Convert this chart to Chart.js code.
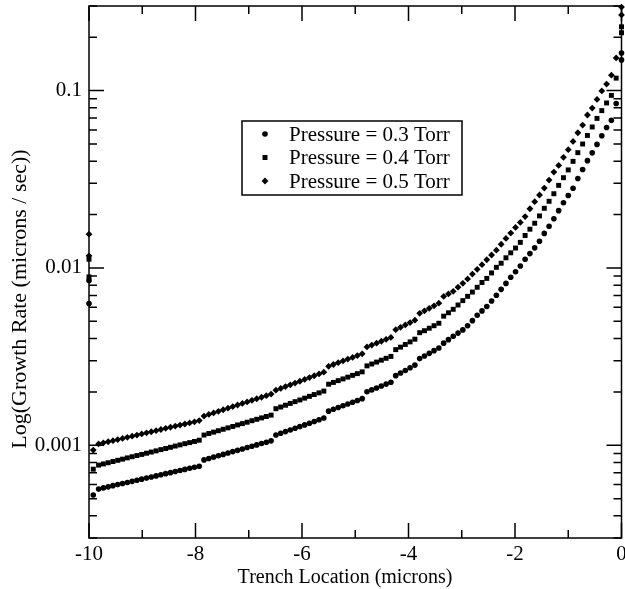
<!DOCTYPE html>
<html><head><meta charset="utf-8">
<script src="https://cdn.jsdelivr.net/npm/chart.js@4.4.0/dist/chart.umd.min.js"></script>
<style>html,body{margin:0;padding:0;background:#fff;}#wrap{width:625px;height:589px;}</style>
</head><body><div id="wrap"><canvas id="c" width="625" height="589"></canvas></div>
<script>
const seriesLabels = ['Pressure = 0.3 Torr', 'Pressure = 0.4 Torr', 'Pressure = 0.5 Torr'];
const xTickValues = [-10, -8, -6, -4, -2, 0];
const yTickValues = [0.001, 0.01, 0.1];
const xTitle = 'Trench Location (microns)';
const yTitle = 'Log(Growth Rate (microns / sec))';

const trenchLocation = [-9.82,-9.73,-9.64,-9.55,-9.46,-9.37,-9.28,-9.19,-9.10,-9.01,
-8.92,-8.83,-8.74,-8.65,-8.56,-8.47,-8.38,-8.29,-8.20,-8.11,
-8.02,-7.93,-7.84,-7.75,-7.66,-7.57,-7.48,-7.39,-7.30,-7.21,
-7.12,-7.03,-6.94,-6.85,-6.76,-6.67,-6.58,-6.49,-6.40,-6.31,
-6.22,-6.13,-6.04,-5.95,-5.86,-5.77,-5.68,-5.59,-5.50,-5.41,
-5.32,-5.23,-5.14,-5.05,-4.96,-4.87,-4.78,-4.69,-4.60,-4.51,
-4.42,-4.33,-4.24,-4.15,-4.06,-3.97,-3.88,-3.79,-3.70,-3.61,
-3.52,-3.43,-3.34,-3.25,-3.16,-3.07,-2.98,-2.89,-2.80,-2.71,
-2.62,-2.53,-2.44,-2.35,-2.26,-2.17,-2.08,-1.99,-1.90,-1.81,
-1.72,-1.63,-1.54,-1.45,-1.36,-1.27,-1.18,-1.09,-1.00,-0.91,
-0.82,-0.73,-0.64,-0.55,-0.46,-0.37,-0.28,-0.19,-0.10];

const rate03 = [0.000566,0.000575,0.000583,0.000592,0.000600,0.000609,0.000617,0.000626,0.000635,0.000644,
0.000653,0.000663,0.000672,0.000682,0.000692,0.000701,0.000711,0.000721,0.000731,0.000742,
0.000752,0.000762,0.000827,0.000842,0.000857,0.000872,0.000888,0.000904,0.000921,0.000936,
0.000953,0.000971,0.000988,0.001005,0.001024,0.001041,0.001059,0.001142,0.001168,0.001194,
0.001220,0.001247,0.001275,0.001303,0.001332,0.001362,0.001394,0.001425,0.001558,0.001595,
0.001633,0.001671,0.001710,0.001749,0.001790,0.001832,0.002003,0.002053,0.002104,0.002157,
0.002213,0.002268,0.002470,0.002554,0.002642,0.002736,0.002833,0.003082,0.003187,0.003300,
0.003417,0.003539,0.003766,0.003940,0.004117,0.004292,0.004473,0.004717,0.005044,0.005409,
0.005726,0.006062,0.006509,0.007016,0.007572,0.008183,0.008855,0.009520,0.01026,0.01119,
0.01205,0.01298,0.01414,0.01566,0.01719,0.01895,0.02104,0.02333,0.02561,0.02815,
0.03196,0.03590,0.04027,0.04456,0.04973,0.05565,0.06197,0.06802,0.08452];

const rate04 = [0.000773,0.000785,0.000797,0.000810,0.000823,0.000835,0.000849,0.000862,0.000875,0.000888,
0.000902,0.000916,0.000930,0.000945,0.000959,0.000974,0.000990,0.001005,0.001021,0.001035,
0.001051,0.001068,0.001142,0.001165,0.001186,0.001208,0.001231,0.001254,0.001277,0.001302,
0.001325,0.001349,0.001376,0.001401,0.001427,0.001453,0.001479,0.001608,0.001643,0.001682,
0.001722,0.001762,0.001801,0.001844,0.001888,0.001932,0.001975,0.002021,0.002210,0.002262,
0.002315,0.002367,0.002422,0.002480,0.002535,0.002594,0.002804,0.002873,0.002945,0.003019,
0.003094,0.003171,0.003462,0.003576,0.003703,0.003829,0.003965,0.004314,0.004427,0.004572,
0.004723,0.004877,0.005347,0.005587,0.005846,0.006181,0.006543,0.006917,0.007312,0.007780,
0.008279,0.008730,0.009374,0.01008,0.01063,0.01141,0.01217,0.01295,0.01394,0.01524,
0.01654,0.01787,0.01965,0.02170,0.02376,0.02621,0.02922,0.03228,0.03571,0.03991,
0.04467,0.04999,0.05587,0.06237,0.06971,0.07710,0.08518,0.09398,0.1176];

const rate05 = [0.001018,0.001032,0.001047,0.001062,0.001077,0.001093,0.001109,0.001126,0.001142,0.001159,
0.001175,0.001192,0.001209,0.001227,0.001246,0.001264,0.001282,0.001300,0.001318,0.001337,
0.001356,0.001378,0.001462,0.001493,0.001522,0.001554,0.001586,0.001618,0.001652,0.001687,
0.001722,0.001755,0.001792,0.001830,0.001866,0.001905,0.001944,0.002045,0.002093,0.002143,
0.002193,0.002244,0.002297,0.002351,0.002410,0.002467,0.002525,0.002584,0.002789,0.002855,
0.002922,0.002991,0.003062,0.003130,0.003204,0.003279,0.003585,0.003674,0.003766,0.003859,
0.003960,0.004059,0.004484,0.004626,0.004771,0.004922,0.005077,0.005544,0.005733,0.005923,
0.006117,0.006326,0.006908,0.007135,0.007379,0.007790,0.008194,0.008674,0.009230,0.009821,
0.01044,0.01112,0.01183,0.01259,0.01360,0.01468,0.01572,0.01693,0.01806,0.01949,
0.02157,0.02364,0.02578,0.02822,0.03130,0.03471,0.03785,0.04204,0.04644,0.05170,
0.05786,0.06392,0.07284,0.07974,0.08913,0.09961,0.1088,0.1222,0.1529];

// first point just inside the left wall, and points sitting on the walls
const startLocation = -9.92;
const startRate = [0.000524, 0.000733, 0.00094];
const leftWallRate = [[0.0085, 0.0063], [0.0112, 0.0089], [0.0155, 0.0117]];
const rightWallRate = [[0.163, 0.149], [0.229, 0.212], [0.296, 0.267]];
const seriesRates = [rate03, rate04, rate05];
const pointStyles = ['circle', 'rect', 'rectRot'];
const pointSizes = [2.8, 3.5, 3.4];

const FONT = '"Liberation Serif", "Times New Roman", serif';

const datasets = seriesRates.map((vals, s) => {
  const data = [];
  leftWallRate[s].forEach(v => data.push({x: -10, y: v}));
  data.push({x: startLocation, y: startRate[s]});
  trenchLocation.forEach((x, i) => data.push({x: x, y: vals[i]}));
  rightWallRate[s].forEach(v => data.push({x: 0, y: v}));
  return {
    label: seriesLabels[s], data: data, showLine: false,
    pointStyle: pointStyles[s], pointRadius: pointSizes[s], pointHoverRadius: pointSizes[s],
    backgroundColor: '#000', borderColor: '#000', pointBorderWidth: 0, clip: false
  };
});

const framePlugin = {
  id: 'frame',
  beforeDatasetsDraw(chart) {
    const {ctx, chartArea: a, scales} = chart;
    const xs = scales.x, ys = scales.y;
    ctx.save();
    ctx.strokeStyle = '#000';
    ctx.lineWidth = 1.5;
    ctx.strokeRect(a.left, a.top, a.right - a.left, a.bottom - a.top);
    ctx.beginPath();
    for (let v = -10; v <= 0; v += 1) {
      const len = (v % 2 === 0) ? 15 : 8;
      const px = xs.getPixelForValue(v);
      ctx.moveTo(px, a.bottom); ctx.lineTo(px, a.bottom - len);
      ctx.moveTo(px, a.top); ctx.lineTo(px, a.top + len);
    }
    for (let e = -4; e <= 0; e++) {
      for (let m = 1; m <= 9; m++) {
        const v = m * Math.pow(10, e);
        if (v < ys.min * 0.999 || v > ys.max * 1.001) continue;
        const len = m === 1 ? 15 : 8;
        const py = ys.getPixelForValue(v);
        ctx.moveTo(a.left, py); ctx.lineTo(a.left + len, py);
        ctx.moveTo(a.right, py); ctx.lineTo(a.right - len, py);
      }
    }
    ctx.stroke();
    // axis titles
    ctx.fillStyle = '#000';
    ctx.textAlign = 'center';
    ctx.textBaseline = 'middle';
    ctx.font = '20px ' + FONT;
    ctx.fillText(xTitle, 345, 578);
    ctx.save();
    ctx.translate(20, 299);
    ctx.rotate(-Math.PI / 2);
    ctx.font = '22px ' + FONT;
    ctx.fillText(yTitle, 0, 0);
    ctx.restore();
    ctx.restore();
  },
  afterDatasetsDraw(chart) {
    const {ctx} = chart;
    ctx.save();
    const bx = 242, by = 121, bw = 220, bh = 74;
    ctx.fillStyle = '#fff';
    ctx.fillRect(bx, by, bw, bh);
    ctx.strokeStyle = '#000';
    ctx.lineWidth = 1.5;
    ctx.strokeRect(bx, by, bw, bh);
    const rows = [134, 157.5, 181];
    ctx.font = '21px ' + FONT;
    ctx.textBaseline = 'middle';
    ctx.textAlign = 'left';
    chart.data.datasets.forEach((ds, i) => {
      const mx = 265, my = rows[i];
      ctx.fillStyle = '#000';
      Chart.helpers.drawPoint(ctx, {pointStyle: ds.pointStyle, radius: ds.pointRadius, borderWidth: 0, rotation: 0}, mx, my);
      ctx.fillText(ds.label, 289, my + 1);
    });
    ctx.restore();
  }
};

new Chart(document.getElementById('c'), {
  type: 'scatter',
  data: {datasets: datasets},
  options: {
    responsive: false, animation: false, devicePixelRatio: 1,
    layout: {padding: {top: 6, right: 3, left: 0, bottom: 0}},
    plugins: {legend: {display: false}, tooltip: {enabled: false}},
    elements: {point: {backgroundColor: '#000'}},
    scales: {
      x: {
        type: 'linear', min: -10, max: 0,
        grid: {display: false, drawTicks: false}, border: {display: false},
        afterBuildTicks: (s) => { s.ticks = xTickValues.map(v => ({value: v})); },
        afterFit: (s) => { s.height = 51; s.paddingLeft = 0; s.paddingRight = 0; },
        ticks: {color: '#000', font: {family: FONT, size: 21}, padding: 4, maxRotation: 0, autoSkip: false,
          callback: (v) => String(v)},
        title: {display: false, text: xTitle}
      },
      y: {
        type: 'logarithmic', min: 0.0003, max: 0.3,
        grid: {display: false, drawTicks: false}, border: {display: false},
        afterBuildTicks: (s) => { s.ticks = yTickValues.map(v => ({value: v})); },
        afterFit: (s) => { s.width = 89; s.paddingTop = 0; s.paddingBottom = 0; },
        ticks: {color: '#000', font: {family: FONT, size: 21}, padding: 7, autoSkip: false,
          callback: (v) => String(v)},
        title: {display: false, text: yTitle}
      }
    }
  },
  plugins: [framePlugin]
});
</script></body></html>
